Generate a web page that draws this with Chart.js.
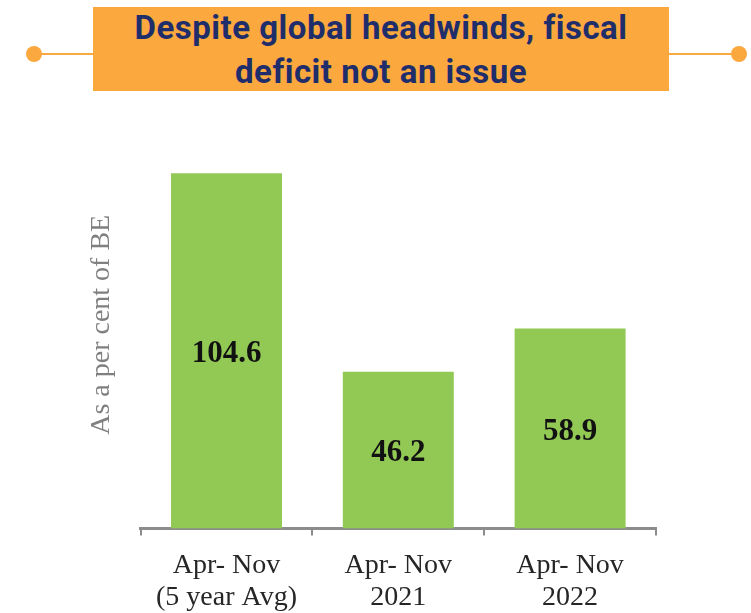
<!DOCTYPE html>
<html>
<head>
<meta charset="utf-8">
<script src="https://cdn.jsdelivr.net/npm/chart.js@4"></script>
<style>
    html, body { margin: 0; padding: 0; background: #fff; }
    #wrap { position: relative; width: 751px; height: 613px; overflow: hidden; }
    #chart { position: absolute; left: 0; top: 0; }
    .rule { position: absolute; top: 53px; height: 2px; background: #fba83f; }
    .dot { position: absolute; top: 46px; width: 16px; height: 16px; border-radius: 50%; background: #fba83f; }
    #titleBox {
        position: absolute; left: 93px; top: 7px; width: 576px; height: 84px;
        background: #fba83f;
    }
    #titleText {
        margin-top: -1px; color: #1f2d6b; text-align: center;
        font-family: "Roboto", sans-serif; font-weight: bold;
        font-size: 33px; line-height: 44px; letter-spacing: 0.5px;
    }
</style>
</head>
<body>
<div id="wrap">
    <canvas id="chart" width="751" height="613"></canvas>
    <div class="rule" style="left:34px;width:60px"></div>
    <div class="rule" style="left:668px;width:71px"></div>
    <div class="dot" style="left:26px"></div>
    <div class="dot" style="left:731px"></div>
    <div id="titleBox"><div id="titleText">Despite global headwinds, fiscal<br>deficit not an issue</div></div>
</div>
<script>
// data
const categories = [['Apr- Nov', '(5 year Avg)'], ['Apr- Nov', '2021'], ['Apr- Nov', '2022']];
const fiscalDeficit = [104.6, 46.2, 58.9];

const colors = {
    bar: '#92c955',
    axis: '#8c8c8c',
    label: '#262626',
    yTitle: '#808080'
};

// draw the value in the middle of each bar
const barValues = {
    id: 'barValues',
    afterDatasetsDraw(chart) {
        const ctx = chart.ctx;
        const meta = chart.getDatasetMeta(0);
        ctx.save();
        ctx.font = 'bold 31px "Liberation Serif", serif';
        ctx.fillStyle = '#111';
        ctx.textAlign = 'center';
        ctx.textBaseline = 'middle';
        meta.data.forEach((bar, i) => {
            const mid = (bar.y + bar.base) / 2;
            ctx.fillText(fiscalDeficit[i].toFixed(1), bar.x, mid + 3);
        });
        ctx.restore();
    }
};

new Chart(document.getElementById('chart'), {
    type: 'bar',
    data: {
        labels: categories,
        datasets: [{
            data: fiscalDeficit,
            backgroundColor: colors.bar,
            borderWidth: 0,
            barPercentage: 0.646,
            categoryPercentage: 1
        }]
    },
    options: {
        responsive: false,
        animation: false,
        layout: { padding: { left: 85, right: 95, top: 121, bottom: -15 } },
        plugins: {
            legend: { display: false },
            tooltip: { enabled: false }
        },
        scales: {
            x: {
                grid: {
                    display: true,
                    drawOnChartArea: false,
                    drawTicks: true,
                    tickLength: 7,
                    color: colors.axis,
                    lineWidth: 2
                },
                border: { display: true, color: colors.axis, width: 3 },
                ticks: {
                    padding: 14,
                    color: colors.label,
                    maxRotation: 0,
                    font: { family: '"Liberation Serif", serif', size: 28, lineHeight: 1.15 }
                }
            },
            y: {
                min: 0,
                max: 120,
                grid: { display: false, drawTicks: false },
                border: { display: false },
                ticks: { display: false },
                title: {
                    display: true,
                    text: 'As a per cent of BE',
                    color: colors.yTitle,
                    padding: { top: 0, bottom: 22 },
                    font: { family: '"Liberation Serif", serif', size: 28, lineHeight: 1.2 }
                }
            }
        }
    },
    plugins: [barValues]
});
</script>
</body>
</html>
